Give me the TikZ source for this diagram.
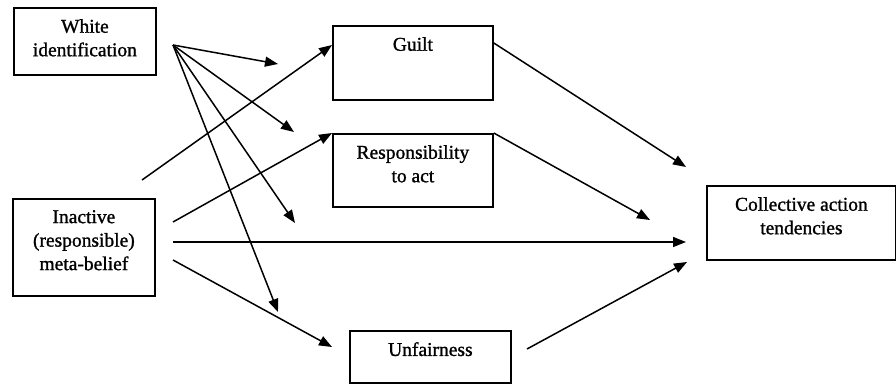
\documentclass[tikz,border=0pt]{standalone}
\usepackage{fontspec}
\setmainfont{Liberation Serif}
\newfontfamily\boxfont{Liberation Serif}[FakeBold=1.2]
\usetikzlibrary{arrows.meta,calc}

\begin{document}
\begin{tikzpicture}[x=1pt,y=-1pt,
    box/.style={draw, line width=1.8pt, anchor=north west, inner sep=0pt},
    txt/.style={anchor=north, align=center, inner sep=0pt, yshift=-12pt, font=\boxfont\fontsize{19.5}{23.5}\selectfont},
    arr/.style={line width=1.5pt, -{Triangle[length=13pt,width=10pt]}}]
  \useasboundingbox (0,0) rectangle (896,383);
  % boxes
  \node[box, minimum width=142pt, minimum height=67pt, label={[txt]north:{White\\identification}}](white) at (13,7){};
  \node[box, minimum width=142pt, minimum height=97pt, label={[txt]north:{Inactive\\(responsible)\\meta-belief}}](inactive) at (12,198){};
  \node[box, minimum width=160pt, minimum height=74pt, label={[txt]north:{Guilt}}](guilt) at (332,25){};
  \node[box, minimum width=160pt, minimum height=73pt, label={[txt]north:{Responsibility\\to act}}](resp) at (332,133){};
  \node[box, minimum width=161pt, minimum height=52pt, label={[txt]north:{Unfairness}}](unfair) at (349,330){};
  \node[box, minimum width=189pt, minimum height=74pt, label={[txt]north:{Collective action\\tendencies}}](collective) at (706,185){};
  % free ends
  \coordinate (fan) at (173,45);
  \coordinate (m1) at (278,64);
  \coordinate (m2) at (294,132);
  \coordinate (m3) at (295,223);
  \coordinate (m4) at (278,312);
  \coordinate (i0) at (142,180);
  \coordinate (i1) at (173,222);
  \coordinate (i2) at (173,242);
  \coordinate (i3) at (173,260);
  \coordinate (u0) at (527,349);
  \coordinate (u1) at (332,347);
  \coordinate (c1) at (686,167);
  \coordinate (c2) at (650,220);
  \coordinate (c3) at (686,242);
  \coordinate (c4) at (687,262);
  % paths
  \foreach \m in {m1,m2,m3,m4}
    \draw[arr] (fan) -- (\m);
  \draw[arr] (i0) -- ($(guilt.north west)+(0,20)$);
  \draw[arr] (i1) -- (resp.north west);
  \draw[arr] (i2) -- (c3);
  \draw[arr] (i3) -- (u1);
  \draw[arr] ($(guilt.north east)+(0,18)$) -- (c1);
  \draw[arr] (resp.north east) -- (c2);
  \draw[arr] (u0) -- (c4);
\end{tikzpicture}
\end{document}
